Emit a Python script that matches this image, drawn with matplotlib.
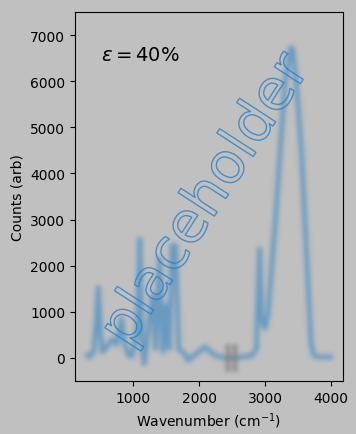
import numpy as np
import matplotlib
matplotlib.use("Agg")
import matplotlib.pyplot as plt
from matplotlib import patheffects

# spectrum (wavenumber, counts)
wavenumber = [300, 340, 400, 440, 470, 500, 530, 600, 680, 750, 820, 870, 930,
              980, 1060, 1100, 1130, 1165, 1200, 1250, 1300, 1340, 1400, 1450,
              1505, 1545, 1590, 1640, 1690, 1780, 1830, 1950, 2090, 2250, 2400,
              2600, 2800, 2870, 2920, 2950, 3000, 3050, 3080, 3160, 3230, 3300,
              3390, 3420, 3480, 3555, 3630, 3700, 3750, 3850, 4000]
counts = [60, 20, 150, 800, 1530, 600, 130, 250, 400, 300, 850, 300, 60,
          40, 600, 2580, 400, -120, 270, 920, 1350, 200, 2150, 140,
          1140, 200, 2440, 2440, 200, 90, -50, 80, 240, 50, 0,
          10, 50, 200, 2360, 850, 640, 1000, 1570, 3010, 4460, 5900,
          6730, 6700, 5900, 4460, 2300, 300, 40, 20, 20]

# small grey blurred marker
gap_x = [2440, 2540]
gap_lo, gap_hi = -300, 300

label_text = r"$\varepsilon = 40\%$"
BG = "#c0c0c0"


class Blur(object):
    def __init__(self, sigma, color, alpha=1.0):
        self.sigma = sigma
        self.color = matplotlib.colors.to_rgb(color)
        self.alpha = alpha

    def __call__(self, im, dpi):
        s = self.sigma * dpi / 100.0
        pad = int(3 * s) + 2
        ny, nx, _ = im.shape
        a = np.zeros((ny + 2 * pad, nx + 2 * pad))
        a[pad:-pad, pad:-pad] = im[:, :, 3]
        t = np.arange(-pad, pad + 1)
        k = np.exp(-0.5 * (t / s) ** 2)
        k /= k.sum()
        a = np.apply_along_axis(lambda r: np.convolve(r, k, mode="same"), 0, a)
        a = np.apply_along_axis(lambda r: np.convolve(r, k, mode="same"), 1, a)
        out = np.zeros((a.shape[0], a.shape[1], 4))
        out[..., :3] = self.color
        out[..., 3] = np.clip(a * self.alpha, 0, 1)
        return out, -pad, -pad


fig = plt.figure(figsize=(3.56, 4.35), dpi=100, facecolor=BG)
ax = fig.add_axes([75 / 356, 1 - 382 / 435, 268 / 356, 369 / 435])
ax.set_facecolor(BG)

line, = ax.plot(wavenumber, counts, color="#1f77b4", lw=3.5)
line.set_agg_filter(Blur(2.3, "#2a7fc0", 0.58))

gaps = ax.vlines(gap_x, gap_lo, gap_hi, color="grey", lw=4)
gaps.set_agg_filter(Blur(2.0, "#7a7a7a", 0.6))

ax.set_xlim(115, 4185)
ax.set_ylim(-500, 7500)
ax.set_xticks([1000, 2000, 3000, 4000])
ax.set_xlabel(r"Wavenumber (cm$^{-1}$)")
ax.set_ylabel("Counts (arb)")

ax.text(0.097, 0.885, label_text, transform=ax.transAxes, fontsize=14, va="center")

ph = ax.text(0.49, 0.49, "placeholder", transform=ax.transAxes, fontsize=41,
             rotation=57, ha="center", va="center")
ph.set_path_effects([patheffects.PathPatchEffect(edgecolor="#2a80c8", facecolor="none",
                                                 linewidth=1.0, alpha=0.8)])

fig.savefig("out.png", dpi=100, facecolor=BG)
